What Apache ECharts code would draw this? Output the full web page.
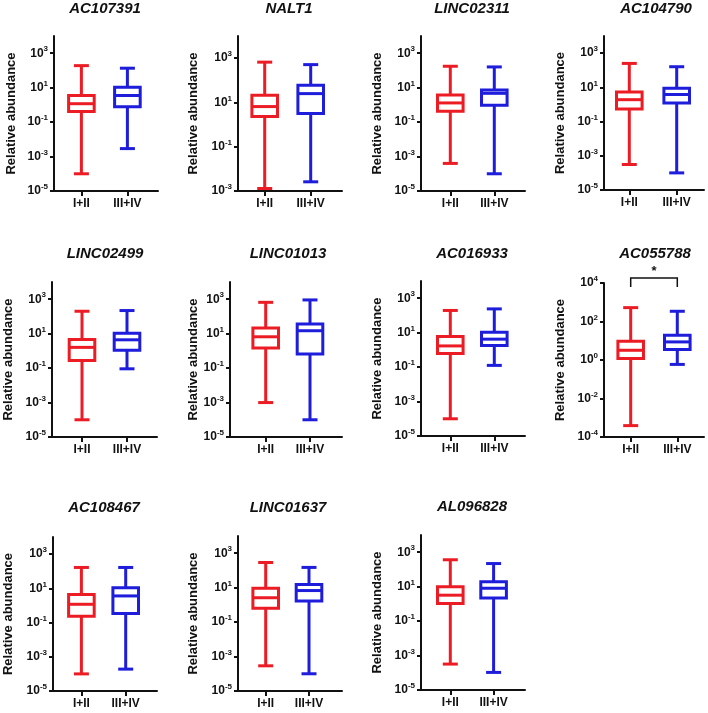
<!DOCTYPE html>
<html><head><meta charset="utf-8">
<script src="https://cdn.jsdelivr.net/npm/echarts@6/dist/echarts.min.js"></script>
<style>html,body{margin:0;padding:0;background:#fff}#c{width:708px;height:713px}</style>
</head><body><div id="c"></div>
<script>
// ---------- DATA ----------
const genes = ['AC107391','NALT1','LINC02311','AC104790','LINC02499','LINC01013','AC016933','AC055788','AC108467','LINC01637','AL096828'];
const groups = ['I+II','III+IV'];
// box statistics per gene: [min, Q1, median, Q3, max]
const stageEarly = [
  [1.0e-4, 0.41, 1.17, 3.5, 190],
  [1.3e-3, 2.3, 6.5, 21, 660],
  [4.0e-4, 0.43, 1.3, 3.8, 175],
  [3.1e-4, 0.55, 1.9, 5.4, 250],
  [1.0e-4, 0.28, 1.6, 4.6, 200],
  [1.0e-3, 1.45, 6.6, 21, 660],
  [1.0e-4, 0.62, 1.7, 6.0, 195],
  [3.9e-4, 1.2, 3.2, 9.5, 525],
  [1.0e-4, 0.23, 1.17, 4.4, 166],
  [2.9e-4, 0.63, 2.6, 9.1, 290],
  [3.2e-4, 1.05, 3.2, 9.8, 365]
];
const stageLate = [
  [2.9e-3, 0.79, 3.5, 10.5, 135],
  [2.6e-3, 3.2, 25, 60, 510],
  [1.0e-4, 0.95, 4.7, 7.4, 160],
  [1.0e-4, 1.23, 3.8, 8.9, 160],
  [0.091, 1.1, 4.4, 10.7, 220],
  [1.0e-4, 0.65, 14.8, 36, 910],
  [0.126, 1.8, 4.2, 10.7, 240],
  [0.59, 3.5, 8.7, 19.5, 340],
  [1.9e-4, 0.34, 3.6, 10.7, 166],
  [1.0e-4, 1.66, 6.8, 15.5, 150],
  [1.05e-4, 2.2, 8.1, 19, 220]
];
// y axis ranges (powers of ten) and labelled ticks
const axisMinExp = [-5,-3,-5,-5,-5,-5,-5,-4,-5,-5,-5];
const axisMaxExp = [4,4,4,4,4,4,4,4,4,4,4];
const tickExps = [
  [-5,-3,-1,1,3],[-3,-1,1,3],[-5,-3,-1,1,3],[-5,-3,-1,1,3],
  [-5,-3,-1,1,3],[-5,-3,-1,1,3],[-5,-3,-1,1,3],[-4,-2,0,2,4],
  [-5,-3,-1,1,3],[-5,-3,-1,1,3],[-5,-3,-1,1,3]
];
const significance = [{gene:'AC055788', label:'*'}];

// ---------- LAYOUT / STYLE ----------
const layout = [
  {x:54,  top:36,  bottom:191, right:158, off:27.4, gap:46,   nameD:42.6, tx:105,   ty:9},
  {x:238, top:36,  bottom:191, right:342, off:26.7, gap:46,   nameD:45,   tx:289,   ty:9},
  {x:421, top:36,  bottom:191, right:525, off:29.3, gap:44,   nameD:44,   tx:472,   ty:9},
  {x:604, top:36,  bottom:190, right:704, off:25.3, gap:47.4, nameD:44,   tx:656,   ty:9},
  {x:52,  top:282, bottom:437, right:157, off:30,   gap:45,   nameD:43.4, tx:105,   ty:254},
  {x:230, top:282, bottom:437, right:342, off:35.7, gap:44.3, nameD:36.7, tx:288,   ty:254},
  {x:421, top:281, bottom:436, right:525, off:29.3, gap:44,   nameD:44,   tx:472,   ty:254},
  {x:604, top:283, bottom:437, right:704, off:26.7, gap:46.6, nameD:44,   tx:655,   ty:254},
  {x:53,  top:537, bottom:691, right:157, off:28.4, gap:44.3, nameD:45,   tx:104,   ty:508},
  {x:238, top:536, bottom:691, right:342, off:27.7, gap:43.3, nameD:45,   tx:288,   ty:508},
  {x:421, top:535, bottom:690, right:525, off:29.3, gap:43.3, nameD:44,   tx:472,   ty:507}
];
const colors = ['#ec1c24', '#1d1ddb'];
const FONT = '"Liberation Sans", Arial, Helvetica, sans-serif';

const grids = [], xAxes = [], yAxes = [], series = [], graphics = [];

function boxRender(params, api) {
  const cx = api.coord([api.value(0), 0])[0];
  const yy = i => api.coord([0, api.value(i)])[1];
  const yMin = yy(1), yQ1 = yy(2), yMed = yy(3), yQ3 = yy(4), yMax = yy(5);
  const st = {stroke: colors[params.dataIndex], lineWidth: 3, fill: null};
  const hb = 12.8, hc = 7.5;
  return {type: 'group', children: [
    {type: 'line', shape: {x1: cx, y1: yQ3, x2: cx, y2: yMax}, style: st},
    {type: 'line', shape: {x1: cx, y1: yQ1, x2: cx, y2: yMin}, style: st},
    {type: 'line', shape: {x1: cx - hc, y1: yMax, x2: cx + hc, y2: yMax}, style: st},
    {type: 'line', shape: {x1: cx - hc, y1: yMin, x2: cx + hc, y2: yMin}, style: st},
    {type: 'rect', shape: {x: cx - hb, y: yQ3, width: 2 * hb, height: yQ1 - yQ3}, style: {stroke: colors[params.dataIndex], lineWidth: 3, fill: '#fff'}},
    {type: 'line', shape: {x1: cx - hb, y1: yMed, x2: cx + hb, y2: yMed}, style: st}
  ]};
}

genes.forEach((g, i) => {
  const L = layout[i];
  const w = L.right - L.x;
  grids.push({left: L.x, top: L.top, width: w, height: L.bottom - L.top, containLabel: false});
  xAxes.push({
    type: 'value', gridIndex: i,
    min: -L.off / L.gap, max: (w - L.off) / L.gap,
    splitLine: {show: false},
    axisLine: {show: true, onZero: false, lineStyle: {color: '#111', width: 2}},
    axisTick: {show: true, length: 5, lineStyle: {color: '#111', width: 2}, customValues: [0, 1]},
    axisLabel: {customValues: [0, 1], margin: 7, color: '#111', fontFamily: FONT, fontWeight: 'bold', fontSize: 12,
      formatter: v => groups[Math.round(v)]}
  });
  yAxes.push({
    type: 'value', gridIndex: i,
    min: axisMinExp[i], max: axisMaxExp[i],
    splitLine: {show: false},
    name: 'Relative abundance', nameLocation: 'middle', nameGap: L.nameD - 6.5,
    nameTextStyle: {color: '#111', fontFamily: FONT, fontWeight: 'bold', fontSize: 13},
    axisLine: {show: true, onZero: false, lineStyle: {color: '#111', width: 2}},
    axisTick: {show: true, length: 4, lineStyle: {color: '#111', width: 2}, customValues: tickExps[i]},
    axisLabel: {customValues: tickExps[i], margin: 6, color: '#111', fontFamily: FONT,
      formatter: v => '{b|10}{s|' + Math.round(v) + '}',
      rich: {
        b: {fontFamily: FONT, fontWeight: 'bold', fontSize: 12, lineHeight: 16, verticalAlign: 'middle', color: '#111'},
        s: {fontFamily: FONT, fontWeight: 'bold', fontSize: 8, lineHeight: 8, verticalAlign: 'top', color: '#111'}
      }}
  });
  series.push({
    type: 'custom', xAxisIndex: i, yAxisIndex: i,
    animation: false, clip: false,
    encode: {x: 0, y: [1, 2, 3, 4, 5]},
    data: [stageEarly[i], stageLate[i]].map((s, k) => [k].concat(s.map(v => Math.log10(v)))),
    renderItem: boxRender
  });
  graphics.push({type: 'text', x: L.tx, y: L.ty,
    style: {text: g, font: 'italic bold 15px ' + FONT, fill: '#111', align: 'center', verticalAlign: 'middle', textAlign: 'center', textVerticalAlign: 'middle'}});
});

significance.forEach(sig => {
  const i = genes.indexOf(sig.gene);
  series.push({
    type: 'custom', xAxisIndex: i, yAxisIndex: i, animation: false, clip: false,
    data: [[0, 1, axisMaxExp[i]]],
    renderItem: (params, api) => {
      const p0 = api.coord([api.value(0), api.value(2)]);
      const p1 = api.coord([api.value(1), api.value(2)]);
      const yl = p0[1] - 5, yb = p0[1] + 4;
      return {type: 'group', children: [
        {type: 'polyline', shape: {points: [[p0[0], yb], [p0[0], yl], [p1[0], yl], [p1[0], yb]]},
          style: {stroke: '#111', lineWidth: 1.5, fill: null}},
        {type: 'text', x: (p0[0] + p1[0]) / 2, y: yl - 7,
          style: {text: sig.label, font: 'bold 13px ' + FONT, fill: '#111', align: 'center', verticalAlign: 'middle'}}
      ]};
    }
  });
});

const chart = echarts.init(document.getElementById('c'), null, {renderer: 'canvas'});
chart.setOption({
  backgroundColor: '#fff',
  animation: false,
  grid: grids, xAxis: xAxes, yAxis: yAxes, series: series,
  graphic: {elements: graphics}
});
</script></body></html>
